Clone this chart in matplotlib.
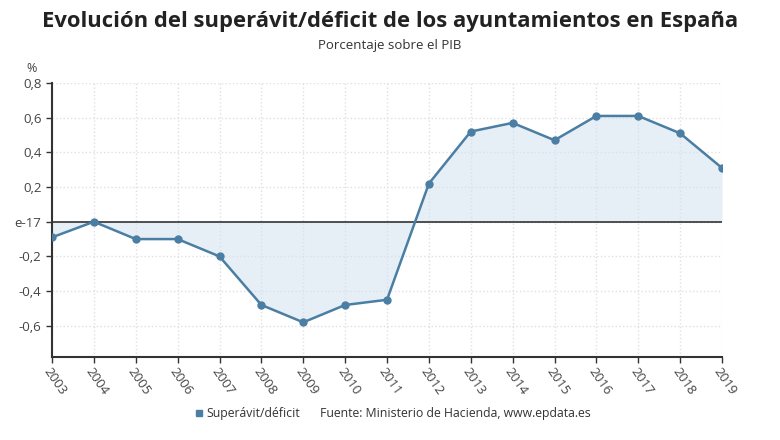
import matplotlib
matplotlib.use("Agg")
import matplotlib.pyplot as plt
import numpy as np

plt.rcParams['font.family'] = ['Open Sans', 'DejaVu Sans']

years = [2003, 2004, 2005, 2006, 2007, 2008, 2009, 2010, 2011,
         2012, 2013, 2014, 2015, 2016, 2017, 2018, 2019]
values = [-0.09, 0.0, -0.10, -0.10, -0.20, -0.48, -0.58, -0.48, -0.45,
          0.22, 0.52, 0.57, 0.47, 0.61, 0.61, 0.51, 0.31]
yticks = [-0.6, -0.4, -0.2, 0.0, 0.2, 0.4, 0.6, 0.8]
ytick_labels = ['-0,6', '-0,4', '-0,2', 'e-17', '0,2', '0,4', '0,6', '0,8']

title = "Evolución del superávit/déficit de los ayuntamientos en España"
subtitle = "Porcentaje sobre el PIB"
series_name = "Superávit/déficit"
source = "Fuente: Ministerio de Hacienda, www.epdata.es"

line_color = '#4b7ea3'
fill_color = '#d6e3f0'

fig = plt.figure(figsize=(7.8, 4.4), dpi=100)
ax = fig.add_axes([52/780, 83/440, (722-52)/780, (357-83)/440])

ax.fill_between(years, values, 0, color=fill_color, alpha=0.6, linewidth=0, zorder=1)
ax.axhline(0, color='#333333', linewidth=1.2, zorder=2)
ax.plot(years, values, color=line_color, linewidth=1.8, marker='o',
        markersize=5, zorder=3)

ax.set_xlim(2003, 2019)
ax.set_ylim(-0.78, 0.8)
ax.set_yticks(yticks)
ax.set_yticklabels(ytick_labels)
ax.set_xticks(years)
ax.set_xticklabels([str(y) for y in years], rotation=-55, ha='left', va='top',
                   rotation_mode='anchor')

ax.grid(True, color='#e2dee6', linestyle=':', linewidth=1)
ax.set_axisbelow(True)
for s in ['top', 'right']:
    ax.spines[s].set_visible(False)
for s in ['left', 'bottom']:
    ax.spines[s].set_color('#333333')
    ax.spines[s].set_linewidth(1.5)
ax.tick_params(axis='both', colors='#333333', labelcolor='#444444', labelsize=9.5,
               length=4, width=1)
ax.tick_params(axis='x', pad=2)

fig.text(0.5, 1 - 22/440, title, ha='center', va='center', fontsize=15.8,
         fontweight='bold', color='#222222')
fig.text(0.5, 1 - 46/440, subtitle, ha='center', va='center', fontsize=9.5,
         color='#333333')
fig.text(32/780, 1 - 68/440, '%', ha='center', va='center', fontsize=9,
         color='#444444')

fig.patches.append(matplotlib.patches.Rectangle((196/780, 1 - 416/440), 6/780, 6/440,
                   transform=fig.transFigure, color=line_color))
fig.text(206/780, 1 - 413/440, series_name, ha='left', va='center', fontsize=8.8,
         color='#333333')
fig.text(320/780, 1 - 413/440, source, ha='left', va='center', fontsize=8.8,
         color='#333333')

fig.savefig('out.png', dpi=100, facecolor='white')
